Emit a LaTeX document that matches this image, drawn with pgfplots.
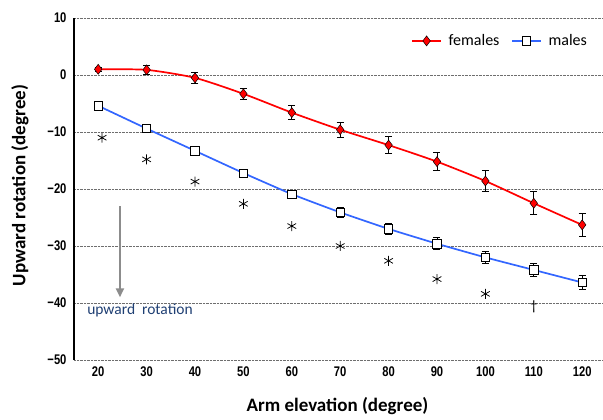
\documentclass[border=0pt]{standalone}
\usepackage{pgfplots}
\pgfplotsset{compat=1.18}
\usepackage{pgfplotstable}
\usepackage{fontspec}
\setmainfont{Carlito}
\newfontfamily\tickfont{Liberation Sans}[FakeStretch=0.8]
\usetikzlibrary{arrows.meta}
\definecolor{fred}{RGB}{255,0,0}
\definecolor{mblue}{RGB}{51,102,255}
\definecolor{txtblue}{RGB}{31,63,115}
\definecolor{arrgray}{RGB}{140,140,140}
\definecolor{gridgray}{RGB}{110,110,110}

\pgfplotstableread{
x y e
20 1.0 0.3
30 0.9 0.8
40 -0.5 0.9
50 -3.3 1.0
60 -6.6 1.2
70 -9.6 1.3
80 -12.3 1.45
90 -15.2 1.55
100 -18.6 1.8
110 -22.5 2.0
120 -26.3 2.0
}\females

\pgfplotstableread{
x y e
20 -5.4 0.3
30 -9.4 0.3
40 -13.3 0.4
50 -17.2 0.5
60 -20.9 0.6
70 -24.1 0.8
80 -27.0 0.95
90 -29.6 1.05
100 -32.0 1.1
110 -34.2 1.15
120 -36.4 1.25
}\males

\begin{document}
\begin{tikzpicture}
\begin{axis}[
  scale only axis, width=529pt, height=342pt,
  xmin=15, xmax=124.3, ymin=-50, ymax=10,
  axis line style={draw=none},
  xtick={20,30,...,120},
  xticklabels={20,30,40,50,60,70,80,90,100,110,120},
  ytick={-50,-40,...,10},
  yticklabels={−50,−40,−30,−20,−10,0,10},
  major tick length=0pt,
  tick label style={font=\tickfont\bfseries\fontsize{14}{14}\selectfont, black},
  xticklabel style={yshift=-3pt},
  yticklabel style={xshift=-4pt},
  ymajorgrids,
  grid style={densely dotted, gridgray, line width=0.9pt},
  ylabel={Upward rotation (degree)},
  ylabel style={at={(axis description cs:-0.102,0.51)}, anchor=center, rotate=0, font=\bfseries\fontsize{19}{19}\selectfont},
  xlabel={Arm elevation (degree)},
  xlabel style={at={(axis description cs:0.498,-0.134)}, anchor=center, font=\bfseries\fontsize{19}{19}\selectfont},
  legend columns=2,
  legend style={at={(axis description cs:0.632,0.933)}, anchor=west, draw=none, fill=none,
    font=\fontsize{16}{16}\selectfont,
    /tikz/every odd column/.append style={column sep=5pt},
    /tikz/every even column/.append style={column sep=10pt}},
  legend image code/.code={\draw[mark repeat=2,mark phase=2] plot coordinates {(0cm,0cm) (0.5cm,0cm) (1cm,0cm)};},
]
\addplot[fred, line width=1.7pt, smooth, tension=0.4,
  mark=diamond*, mark size=5pt, mark options={fill=fred, draw=black, line width=0.5pt, solid},
  error bars/.cd, y dir=both, y explicit,
  error bar style={black, line width=0.8pt},
  error mark options={rotate=90, mark size=3.5pt, black, line width=0.8pt}]
  table[x=x, y=y, y error=e]{\females};
\addlegendentry{females}
\addplot[mblue, line width=1.7pt, smooth, tension=0.3,
  mark=square*, mark size=4.2pt, mark options={fill=white, draw=black, line width=0.6pt, solid},
  error bars/.cd, y dir=both, y explicit,
  error bar style={black, line width=0.8pt},
  error mark options={rotate=90, mark size=3.5pt, black, line width=0.8pt}]
  table[x=x, y=y, y error=e]{\males};
\addlegendentry{males}
\addplot[only marks, mark=asterisk, mark size=5pt, black, line width=0.75pt, forget plot]
  coordinates {(20.8,-11.0) (30,-14.8) (40,-18.7) (50,-22.6) (60,-26.5) (70,-30.0) (80,-32.6) (90,-35.8) (100,-38.4)};
\addplot[only marks, black, mark=text, text mark={\fontsize{14}{14}\selectfont\dag}, forget plot]
  coordinates {(110,-40.6)};
\draw[arrgray, line width=2.6pt, -{Triangle[width=8pt,length=9pt]}] (axis cs:24.5,-23) -- (axis cs:24.5,-39);
\node[anchor=west, text=txtblue, font=\fontsize{15.5}{15.5}\selectfont, inner sep=0pt] at (axis cs:17.7,-41.3) {upward\ \ rotation};
\end{axis}
\draw[black, line width=1.2pt] (current axis.south west) -- (current axis.north west);
\pgfresetboundingbox
\useasboundingbox ([xshift=-74pt,yshift=-60pt]current axis.south west) rectangle ([yshift=18pt]current axis.north east);
\end{tikzpicture}
\end{document}
